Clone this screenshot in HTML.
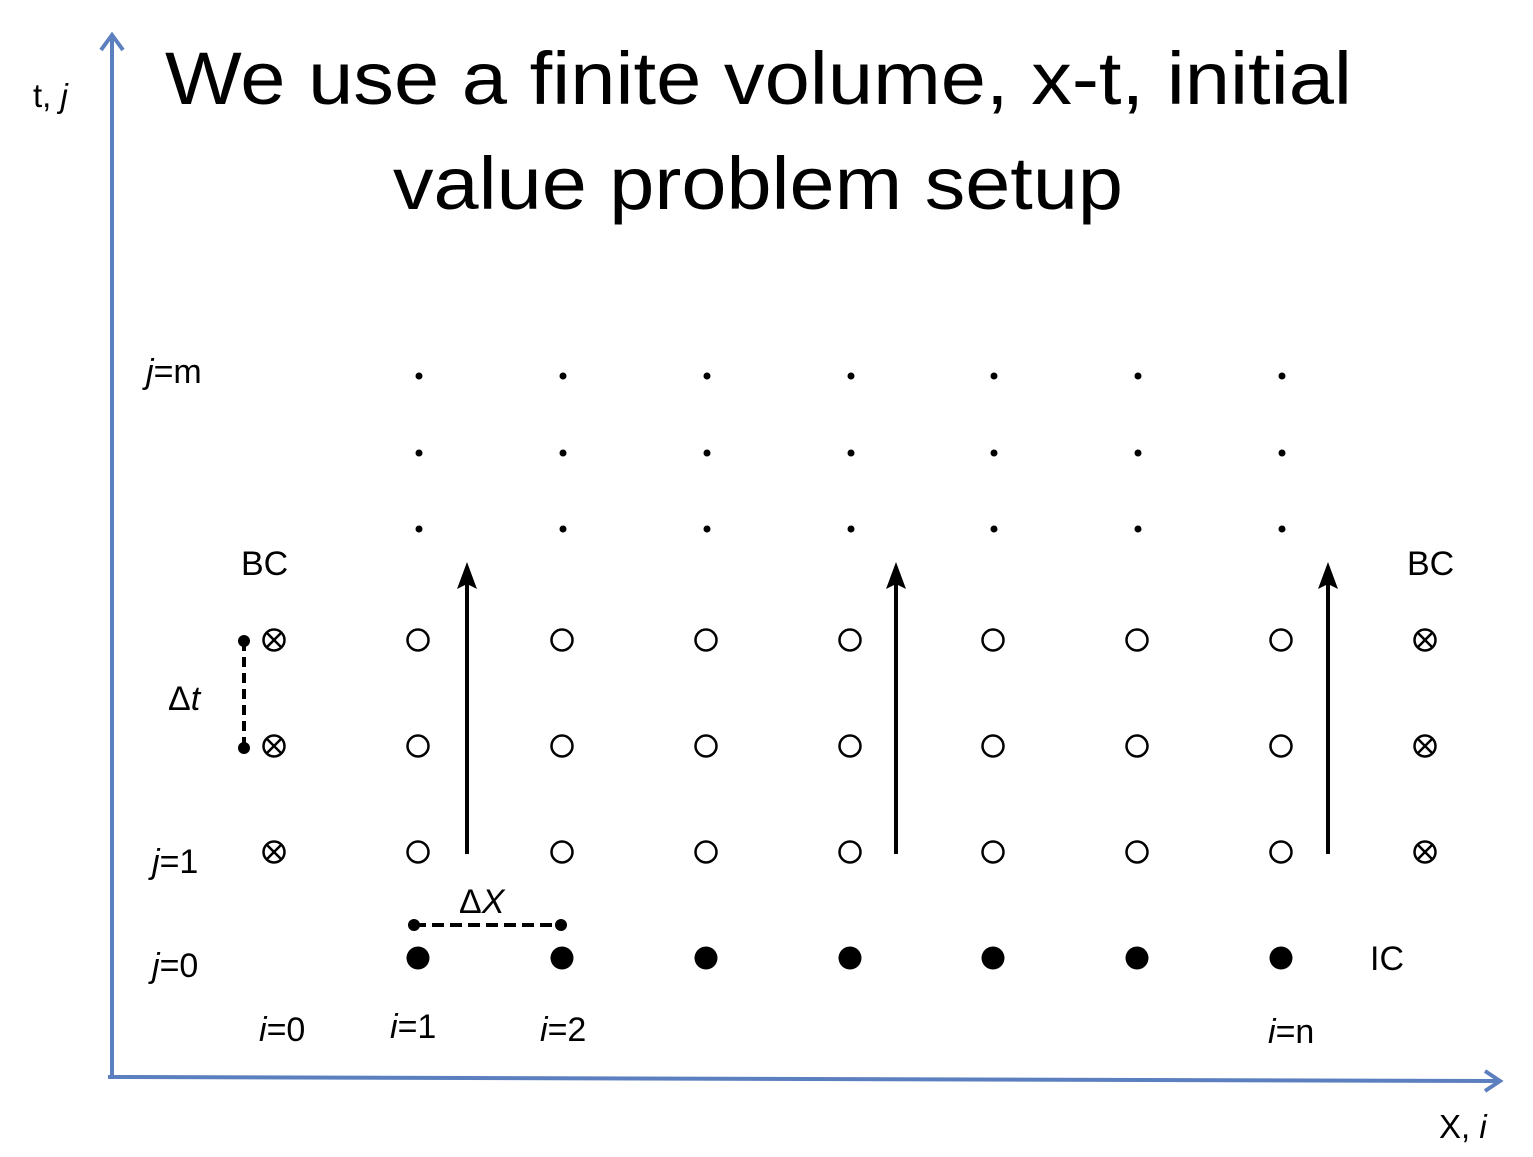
<!DOCTYPE html>
<html><head><meta charset="utf-8">
<style>
html,body{margin:0;padding:0;background:#fff;}
svg{display:block;font-family:"Liberation Sans",sans-serif;}
</style></head>
<body>
<svg id="chart" width="1533" height="1157" viewBox="0 0 1533 1157" xmlns="http://www.w3.org/2000/svg">
<g font-size="74" fill="#000">
<text x="165" y="104" textLength="1187" lengthAdjust="spacingAndGlyphs">We use a finite volume, x-t, initial</text>
<text x="393" y="209" textLength="730" lengthAdjust="spacingAndGlyphs">value problem setup</text>
</g>
<g>
<line x1="112" y1="1078" x2="112" y2="36" stroke="#5b7fbf" stroke-width="4"/>
<polyline points="101,50 112,35 123,50" fill="none" stroke="#5b7fbf" stroke-width="4"/>
</g>
<g>
<line x1="108" y1="1077" x2="1498" y2="1081" stroke="#5b7fbf" stroke-width="4"/>
<polyline points="1485,1071 1500,1081 1485,1091" fill="none" stroke="#5b7fbf" stroke-width="4"/>
</g>
<text x="33" y="107" font-size="33">t, <tspan font-style="italic">j</tspan></text>
<text x="1439" y="1138" font-size="33">X, <tspan font-style="italic">i</tspan></text>
<g id="grid"></g>
<g id="labels" font-size="34" fill="#000"></g>
</svg>
<script>
// grid data
const colX = [274, 418, 562, 706, 850, 993, 1137, 1281, 1425];
const rowsOpen = [852, 746, 640];
const rowDots = [376, 453, 529];
const rowIC = 958;
const arrowCols = [467, 896, 1328];
const NS='http://www.w3.org/2000/svg';
const g=document.getElementById('grid');
function mk(tag,attrs,parent){const e=document.createElementNS(NS,tag);for(const k in attrs)e.setAttribute(k,attrs[k]);(parent||g).appendChild(e);return e;}
// boundary (⊗)
[0,colX.length-1].forEach(ci=>{rowsOpen.forEach(y=>{
  const x=colX[ci];
  const gg=mk('g',{});
  
  
  mk('circle',{cx:x,cy:y,r:10.5,fill:'none',stroke:'#000','stroke-width':2.5},gg);
  const d=7;
  mk('line',{x1:x-d,y1:y-d,x2:x+d,y2:y+d,stroke:'#000','stroke-width':2.5},gg);
  mk('line',{x1:x-d,y1:y+d,x2:x+d,y2:y-d,stroke:'#000','stroke-width':2.5},gg);
});});
// interior
for(let ci=1;ci<colX.length-1;ci++){
  const x=colX[ci];
  rowsOpen.forEach(y=>{const c=mk('circle',{cx:x,cy:y,r:10.5,fill:'none',stroke:'#000','stroke-width':2.5});
    
    });
  rowDots.forEach(y=>{const c=mk('circle',{cx:x+1,cy:y,r:3.5,fill:'#000'});
    
    });
  const f=mk('circle',{cx:x,cy:rowIC,r:11.5,fill:'#000'});
  
  
}
// arrows
arrowCols.forEach(x=>{
  const a=mk('g',{});
  
  
  mk('line',{x1:x,y1:rowsOpen[0]+2,x2:x,y2:580,stroke:'#000','stroke-width':4},a);
  mk('path',{d:`M${x},562 L${x+10},589 L${x},584 L${x-10},589 Z`,fill:'#000'},a);
});
// dt
const dt=mk('g',{});


mk('line',{x1:244,y1:641,x2:244,y2:748,stroke:'#000','stroke-width':4,'stroke-dasharray':'10,6'},dt);
mk('circle',{cx:244,cy:641,r:6,fill:'#000'},dt);
mk('circle',{cx:244,cy:748,r:6,fill:'#000'},dt);
// dx
const dx=mk('g',{});


mk('line',{x1:414,y1:925,x2:561,y2:925,stroke:'#000','stroke-width':4,'stroke-dasharray':'12,6'},dx);
mk('circle',{cx:414,cy:925,r:6,fill:'#000'},dx);
mk('circle',{cx:561,cy:925,r:6,fill:'#000'},dx);
// labels
const L=document.getElementById('labels');
function lab(name,x,y,html){const t=document.createElementNS(NS,'text');t.setAttribute('x',x);t.setAttribute('y',y);t.innerHTML=html;
  
  
  L.appendChild(t);}
lab('j-m-label',146,383,'<tspan font-style="italic">j</tspan>=m');
lab('j-1-label',152,873,'<tspan font-style="italic">j</tspan>=1');
lab('j-0-label',152,977,'<tspan font-style="italic">j</tspan>=0');
lab('i-0-label',259,1041,'<tspan font-style="italic">i</tspan>=0');
lab('i-1-label',390,1038,'<tspan font-style="italic">i</tspan>=1');
lab('i-2-label',540,1041,'<tspan font-style="italic">i</tspan>=2');
lab('i-n-label',1268,1043,'<tspan font-style="italic">i</tspan>=n');
lab('bc-left-label',241,575,'BC');
lab('bc-right-label',1407,575,'BC');
lab('ic-label',1370,970,'IC');
lab('delta-t-label',168,710,'Δ<tspan font-style="italic">t</tspan>');
lab('delta-x-label',459,913,'Δ<tspan font-style="italic">X</tspan>');
</script>
</body></html>
